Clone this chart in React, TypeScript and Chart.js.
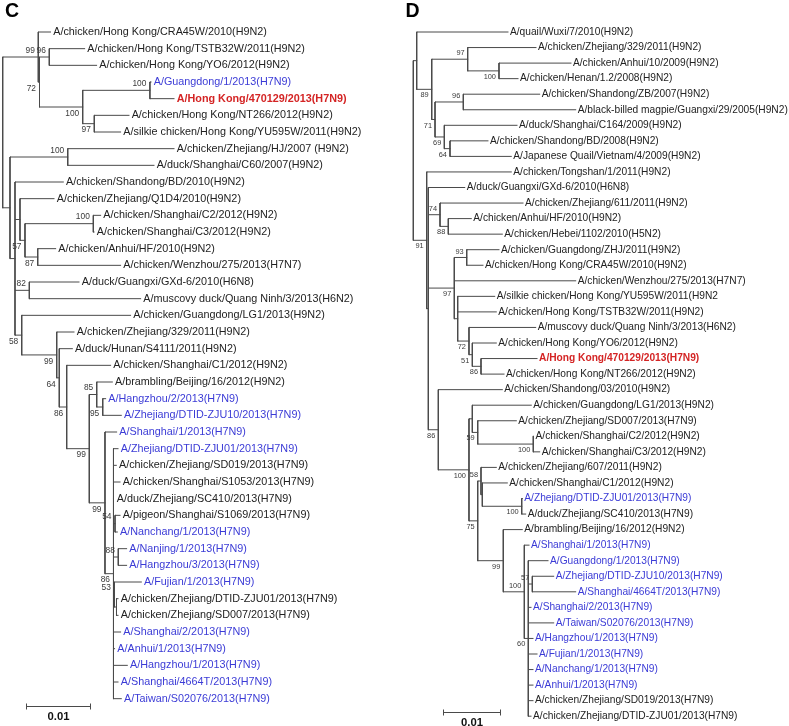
import React, { useEffect, useRef } from "react";
import { Chart, registerables } from "chart.js";

Chart.register(...registerables);

const FONT = '"Liberation Sans", Arial, Helvetica, sans-serif';
const HEIGHT = 726;
const LINE_COLOR = "#4a4a4a";
const SUPPORT_COLOR = "#3a3a3a";
const TEXT_COLORS: Record<string, string> = { k: "#222222", b: "#3b3bd6", r: "#d42424" };
const SCALE_BAR_VALUE = 0.01;
const SCALE_BAR_LABEL = "0.01";

// ---------------- Panel C ----------------
const C_LEAVES = [
  "A/chicken/Hong Kong/CRA45W/2010(H9N2)",
  "A/chicken/Hong Kong/TSTB32W/2011(H9N2)",
  "A/chicken/Hong Kong/YO6/2012(H9N2)",
  "A/Guangdong/1/2013(H7N9)",
  "A/Hong Kong/470129/2013(H7N9)",
  "A/chicken/Hong Kong/NT266/2012(H9N2)",
  "A/silkie chicken/Hong Kong/YU595W/2011(H9N2)",
  "A/chicken/Zhejiang/HJ/2007 (H9N2)",
  "A/duck/Shanghai/C60/2007(H9N2)",
  "A/chicken/Shandong/BD/2010(H9N2)",
  "A/chicken/Zhejiang/Q1D4/2010(H9N2)",
  "A/chicken/Shanghai/C2/2012(H9N2)",
  "A/chicken/Shanghai/C3/2012(H9N2)",
  "A/chicken/Anhui/HF/2010(H9N2)",
  "A/chicken/Wenzhou/275/2013(H7N7)",
  "A/duck/Guangxi/GXd-6/2010(H6N8)",
  "A/muscovy duck/Quang Ninh/3/2013(H6N2)",
  "A/chicken/Guangdong/LG1/2013(H9N2)",
  "A/chicken/Zhejiang/329/2011(H9N2)",
  "A/duck/Hunan/S4111/2011(H9N2)",
  "A/chicken/Shanghai/C1/2012(H9N2)",
  "A/brambling/Beijing/16/2012(H9N2)",
  "A/Hangzhou/2/2013(H7N9)",
  "A/Zhejiang/DTID-ZJU10/2013(H7N9)",
  "A/Shanghai/1/2013(H7N9)",
  "A/Zhejiang/DTID-ZJU01/2013(H7N9)",
  "A/chicken/Zhejiang/SD019/2013(H7N9)",
  "A/chicken/Shanghai/S1053/2013(H7N9)",
  "A/duck/Zhejiang/SC410/2013(H7N9)",
  "A/pigeon/Shanghai/S1069/2013(H7N9)",
  "A/Nanchang/1/2013(H7N9)",
  "A/Nanjing/1/2013(H7N9)",
  "A/Hangzhou/3/2013(H7N9)",
  "A/Fujian/1/2013(H7N9)",
  "A/chicken/Zhejiang/DTID-ZJU01/2013(H7N9)",
  "A/chicken/Zhejiang/SD007/2013(H7N9)",
  "A/Shanghai/2/2013(H7N9)",
  "A/Anhui/1/2013(H7N9)",
  "A/Hangzhou/1/2013(H7N9)",
  "A/Shanghai/4664T/2013(H7N9)",
  "A/Taiwan/S02076/2013(H7N9)",
];
const C_LEAF_COLOR = [
  "k", "k", "k", "b", "r",
  "k", "k", "k", "k", "k", "k", "k", "k", "k", "k", "k", "k", "k", "k", "k", "k", "k",
  "b", "b", "b", "b",
  "k", "k", "k", "k",
  "b", "b", "b", "b",
  "k", "k",
  "b", "b", "b", "b", "b",
];
const C_LEAF_PARENT = [
  "P", "Pb", "Pb", "S", "S", "T", "T", "Ua", "Ua", "V", "Z", "Yc", "Yc", "Ya", "Ya", "GX", "GX", "L",
  "AA", "AB", "AC", "AE", "AEb", "AEb", "AF", "AG", "AG", "AG", "AG", "N54", "N54", "N88", "N88",
  "N53", "NZ", "NZ", "AG", "AG", "AG", "AG", "AG",
];
const C_LEAF_DEPTH = [
  0.00747, 0.0128, 0.01467, 0.02317, 0.02677, 0.01973, 0.01842, 0.02677, 0.02364, 0.00947,
  0.00802, 0.0153, 0.01427, 0.00827, 0.01842, 0.01192, 0.02155, 0.01998, 0.01114, 0.01088,
  0.01686, 0.01713, 0.01608, 0.01853, 0.0178, 0.01802, 0.01775, 0.01833, 0.01739, 0.01833,
  0.01791, 0.01936, 0.01936, 0.02166, 0.01802, 0.01802, 0.01842, 0.01748, 0.01947, 0.01802,
  0.01853,
];
const C_NODE_ID = [
  "root", "P", "Q", "Pb", "R", "S", "T", "U", "Ua", "V", "Z", "Y", "Yc", "Ya", "GX", "L",
  "AA", "AB", "AC", "AD", "AE", "AEb", "AF", "AG", "N54", "N88", "N53", "NZ",
];
const C_NODE_PARENT = [
  "", "root", "P", "Q", "Q", "R", "R", "root", "U", "U", "V", "Z", "Y", "Y", "V", "V",
  "L", "AA", "AB", "AC", "AD", "AE", "AD", "AF", "AG", "AG", "AG", "N53",
];
const C_NODE_DEPTH = [
  0, 0.00556, 0.00575, 0.00728, 0.0125, 0.023, 0.01431, 0.00114, 0.01016, 0.00192, 0.0027,
  0.00348, 0.01416, 0.00547, 0.00416, 0.00297, 0.00844, 0.00884, 0.01, 0.01353, 0.01469,
  0.01563, 0.01598, 0.01731, 0.01755, 0.01806, 0.01744, 0.01778,
];
const C_NODE_SUPPORT = [
  "", "99", "72", "96", "100", "100", "97", "", "100", "", "", "57", "100", "87", "82", "58",
  "99", "64", "86", "99", "85", "95", "99", "86", "54", "88", "53", "",
];
const C_NODE_LABEL_POS = [
  "", "a", "b", "a", "b", "a", "b", "", "a", "", "", "b", "a", "b", "a", "b",
  "b", "b", "b", "b", "a", "b", "b", "b", "a", "a", "a", "",
];

// ---------------- Panel D ----------------
const D_LEAVES = [
  "A/quail/Wuxi/7/2010(H9N2)",
  "A/chicken/Zhejiang/329/2011(H9N2)",
  "A/chicken/Anhui/10/2009(H9N2)",
  "A/chicken/Henan/1.2/2008(H9N2)",
  "A/chicken/Shandong/ZB/2007(H9N2)",
  "A/black-billed magpie/Guangxi/29/2005(H9N2)",
  "A/duck/Shanghai/C164/2009(H9N2)",
  "A/chicken/Shandong/BD/2008(H9N2)",
  "A/Japanese Quail/Vietnam/4/2009(H9N2)",
  "A/chicken/Tongshan/1/2011(H9N2)",
  "A/duck/Guangxi/GXd-6/2010(H6N8)",
  "A/chicken/Zhejiang/611/2011(H9N2)",
  "A/chicken/Anhui/HF/2010(H9N2)",
  "A/chicken/Hebei/1102/2010(H5N2)",
  "A/chicken/Guangdong/ZHJ/2011(H9N2)",
  "A/chicken/Hong Kong/CRA45W/2010(H9N2)",
  "A/chicken/Wenzhou/275/2013(H7N7)",
  "A/silkie chicken/Hong Kong/YU595W/2011(H9N2",
  "A/chicken/Hong Kong/TSTB32W/2011(H9N2)",
  "A/muscovy duck/Quang Ninh/3/2013(H6N2)",
  "A/chicken/Hong Kong/YO6/2012(H9N2)",
  "A/Hong Kong/470129/2013(H7N9)",
  "A/chicken/Hong Kong/NT266/2012(H9N2)",
  "A/chicken/Shandong/03/2010(H9N2)",
  "A/chicken/Guangdong/LG1/2013(H9N2)",
  "A/chicken/Zhejiang/SD007/2013(H7N9)",
  "A/chicken/Shanghai/C2/2012(H9N2)",
  "A/chicken/Shanghai/C3/2012(H9N2)",
  "A/chicken/Zhejiang/607/2011(H9N2)",
  "A/chicken/Shanghai/C1/2012(H9N2)",
  "A/Zhejiang/DTID-ZJU01/2013(H7N9)",
  "A/duck/Zhejiang/SC410/2013(H7N9)",
  "A/brambling/Beijing/16/2012(H9N2)",
  "A/Shanghai/1/2013(H7N9)",
  "A/Guangdong/1/2013(H7N9)",
  "A/Zhejiang/DTID-ZJU10/2013(H7N9)",
  "A/Shanghai/4664T/2013(H7N9)",
  "A/Shanghai/2/2013(H7N9)",
  "A/Taiwan/S02076/2013(H7N9)",
  "A/Hangzhou/1/2013(H7N9)",
  "A/Fujian/1/2013(H7N9)",
  "A/Nanchang/1/2013(H7N9)",
  "A/Anhui/1/2013(H7N9)",
  "A/chicken/Zhejiang/SD019/2013(H7N9)",
  "A/chicken/Zhejiang/DTID-ZJU01/2013(H7N9)",
];
const D_LEAF_COLOR = [
  "k", "k", "k", "k", "k", "k", "k", "k", "k", "k", "k", "k", "k", "k", "k", "k", "k", "k", "k", "k", "k",
  "r",
  "k", "k", "k", "k", "k", "k", "k", "k",
  "b", "k", "k",
  "b", "b", "b", "b", "b", "b", "b", "b", "b", "b",
  "k", "k",
];
const D_LEAF_PARENT = [
  "DA", "DC", "DCa", "DCa", "DDa", "DDa", "DDb", "DDc", "DDc", "DE", "DE2", "DH", "DHa", "DHa",
  "DIa", "DIa", "DI", "DJ", "DJ", "DK", "DL", "DM", "DM", "DF", "DO", "DO2", "DOc", "DOc", "DP",
  "DP2", "DPz", "DPz", "DR", "DS", "DT", "DU", "DU", "DT", "DT", "DT", "DT", "DT", "DT", "DT", "DT",
];
const D_LEAF_DEPTH = [
  0.0167, 0.02164, 0.02781, 0.01847, 0.02229, 0.02864, 0.01829, 0.01317, 0.01728, 0.01728,
  0.00907, 0.01935, 0.01023, 0.0157, 0.01511, 0.01229, 0.02864, 0.01436, 0.01464, 0.02159,
  0.01464, 0.02182, 0.016, 0.0157, 0.02081, 0.01817, 0.0212, 0.02229, 0.01464, 0.01658,
  0.01922, 0.01982, 0.01922, 0.02041, 0.02376, 0.02476, 0.02864, 0.02076, 0.02476, 0.02111,
  0.02182, 0.02111, 0.02111, 0.02111, 0.02076,
];
const D_NODE_ID = [
  "rootD", "DA", "DB", "DC", "DCa", "DD", "DDa", "DDb", "DDc", "DE", "DE2", "DH", "DHa", "DI",
  "DIa", "DJ", "DK", "DL", "DM", "DF", "DN", "DO", "DO2", "DOc", "DQ", "DP", "DP2", "DPz", "DR",
  "DS", "DT", "DU",
];
const D_NODE_PARENT = [
  "", "rootD", "DA", "DB", "DC", "DB", "DD", "DD", "DDb", "rootD", "DE", "DE2", "DH", "DE2",
  "DI", "DI", "DJ", "DK", "DL", "DE2", "DF", "DN", "DO", "DO2", "DN", "DQ", "DP", "DP2", "DQ",
  "DR", "DS", "DT",
];
const D_NODE_DEPTH = [
  0, 0.0006, 0.00325, 0.00959, 0.01511, 0.00383, 0.00882, 0.00547, 0.00647, 0.00236, 0.00265,
  0.00471, 0.00617, 0.00723, 0.00942, 0.00783, 0.00982, 0.01041, 0.01194, 0.00441, 0.00982,
  0.01041, 0.01136, 0.02116, 0.01136, 0.01194, 0.01217, 0.01912, 0.01587, 0.01958, 0.02028,
  0.02099,
];
const D_NODE_SUPPORT = [
  "", "", "89", "97", "100", "71", "96", "69", "64", "91", "", "74", "88", "97",
  "93", "", "72", "51", "86", "86", "100", "", "59", "100", "75", "58", "", "100", "99",
  "100", "60", "57",
];
const D_NODE_LABEL_POS = [
  "", "", "b", "a", "b", "b", "a", "b", "b", "b", "", "a", "b", "b",
  "a", "", "b", "b", "b", "b", "b", "", "b", "b", "b", "a", "", "b", "b",
  "a", "b", "a",
];

type Panel = {
  letter: string;
  leaves: string[];
  leafColor: string[];
  leafParent: string[];
  leafDepth: number[];
  nodeId: string[];
  nodeParent: string[];
  nodeDepth: number[];
  nodeSupport: string[];
  nodeLabelPos: string[];
  left: number;
  width: number;
  rootPx: number;
  pxPerUnit: number;
  firstRowY: number;
  rowStep: number;
  leafFont: number;
  supportFont: number;
  supportGap: number;
  supportOffset: number;
  textGap: number;
  scaleBarDepth: number;
  scaleBarRow: number;
  scaleFont: number;
  letterX: number;
};

const PANEL_C: Panel = {
  letter: "C",
  leaves: C_LEAVES,
  leafColor: C_LEAF_COLOR,
  leafParent: C_LEAF_PARENT,
  leafDepth: C_LEAF_DEPTH,
  nodeId: C_NODE_ID,
  nodeParent: C_NODE_PARENT,
  nodeDepth: C_NODE_DEPTH,
  nodeSupport: C_NODE_SUPPORT,
  nodeLabelPos: C_NODE_LABEL_POS,
  left: 0,
  width: 393,
  rootPx: 2.7,
  pxPerUnit: 6400,
  firstRowY: 32,
  rowStep: 16.667,
  leafFont: 10.8,
  supportFont: 8.4,
  supportGap: 3.5,
  supportOffset: 6.5,
  textGap: 2.7,
  scaleBarDepth: 0.00364,
  scaleBarRow: 40.42,
  scaleFont: 11.3,
  letterX: 5,
};

const PANEL_D: Panel = {
  letter: "D",
  leaves: D_LEAVES,
  leafColor: D_LEAF_COLOR,
  leafParent: D_LEAF_PARENT,
  leafDepth: D_LEAF_DEPTH,
  nodeId: D_NODE_ID,
  nodeParent: D_NODE_PARENT,
  nodeDepth: D_NODE_DEPTH,
  nodeSupport: D_NODE_SUPPORT,
  nodeLabelPos: D_NODE_LABEL_POS,
  left: 393,
  width: 396,
  rootPx: 413.3,
  pxPerUnit: 5670,
  firstRowY: 32,
  rowStep: 15.55,
  leafFont: 10.2,
  supportFont: 7.4,
  supportGap: 3,
  supportOffset: 6,
  textGap: 2,
  scaleBarDepth: 0.00529,
  scaleBarRow: 43.71,
  scaleFont: 11.3,
  letterX: 12.5,
};

function buildTree(p: Panel) {
  const kids: Record<string, string[]> = {};
  const leafRows: Record<string, number[]> = {};
  const depth: Record<string, number> = {};
  p.nodeId.forEach((id, k) => {
    depth[id] = p.nodeDepth[k];
    const par = p.nodeParent[k];
    if (par) (kids[par] = kids[par] || []).push(id);
  });
  p.leafParent.forEach((par, i) => (leafRows[par] = leafRows[par] || []).push(i));
  const y: Record<string, number> = {};
  const lo: Record<string, number> = {};
  const hi: Record<string, number> = {};
  const calc = (id: string): number => {
    const ys = [...(leafRows[id] || []), ...(kids[id] || []).map(calc)];
    lo[id] = Math.min(...ys);
    hi[id] = Math.max(...ys);
    y[id] = (lo[id] + hi[id]) / 2;
    return y[id];
  };
  p.nodeId.forEach((id, k) => {
    if (!p.nodeParent[k]) calc(id);
  });
  const pts: { x: number; y: number }[] = [];
  const seg = (x1: number, y1: number, x2: number, y2: number) => {
    pts.push({ x: x1, y: y1 }, { x: x2, y: y2 }, { x: NaN, y: NaN });
  };
  p.leafParent.forEach((par, i) => seg(depth[par], i, p.leafDepth[i], i));
  p.nodeId.forEach((id, k) => {
    const par = p.nodeParent[k];
    if (par) seg(depth[par], y[id], depth[id], y[id]);
    seg(depth[id], lo[id], depth[id], hi[id]);
  });
  return { pts, y, depth };
}

function makeTextPlugin(p: Panel, t: ReturnType<typeof buildTree>) {
  return {
    id: "treeText" + p.letter,
    afterDatasetsDraw(chart: any) {
      const ctx: CanvasRenderingContext2D = chart.ctx;
      const xs = chart.scales.x;
      const ys = chart.scales.y;
      ctx.save();
      ctx.textBaseline = "middle";
      ctx.textAlign = "left";
      p.leaves.forEach((name, i) => {
        const c = p.leafColor[i];
        ctx.font = (c === "r" ? "bold " : "") + p.leafFont + "px " + FONT;
        ctx.fillStyle = TEXT_COLORS[c];
        ctx.fillText(name, xs.getPixelForValue(p.leafDepth[i]) + p.textGap, ys.getPixelForValue(i));
      });
      ctx.textAlign = "right";
      ctx.font = p.supportFont + "px " + FONT;
      ctx.fillStyle = SUPPORT_COLOR;
      p.nodeId.forEach((id, k) => {
        const s = p.nodeSupport[k];
        if (!s) return;
        const x = xs.getPixelForValue(t.depth[id]) - p.supportGap;
        const off = p.nodeLabelPos[k] === "a" ? -p.supportOffset : p.supportOffset;
        ctx.fillText(s, x, ys.getPixelForValue(t.y[id]) + off);
      });
      // scale bar
      const x0 = Math.round(xs.getPixelForValue(p.scaleBarDepth)) + 0.5;
      const x1 = Math.round(xs.getPixelForValue(p.scaleBarDepth + SCALE_BAR_VALUE)) + 0.5;
      const yb = Math.round(ys.getPixelForValue(p.scaleBarRow)) + 0.5;
      ctx.strokeStyle = LINE_COLOR;
      ctx.lineWidth = 1;
      ctx.beginPath();
      ctx.moveTo(x0, yb);
      ctx.lineTo(x1, yb);
      ctx.moveTo(x0, yb - 3);
      ctx.lineTo(x0, yb + 3);
      ctx.moveTo(x1, yb - 3);
      ctx.lineTo(x1, yb + 3);
      ctx.stroke();
      ctx.fillStyle = "#111";
      ctx.textAlign = "center";
      ctx.font = "bold " + p.scaleFont + "px " + FONT;
      ctx.fillText(SCALE_BAR_LABEL, (x0 + x1) / 2, yb + 10.5);
      // panel letter
      ctx.textAlign = "left";
      ctx.textBaseline = "alphabetic";
      ctx.font = "bold 19.5px " + FONT;
      ctx.fillStyle = "#000";
      ctx.fillText(p.letter, p.letterX, 17);
      ctx.restore();
    },
  };
}

function TreePanel({ p }: { p: Panel }) {
  const ref = useRef<HTMLCanvasElement>(null);
  useEffect(() => {
    if (!ref.current) return;
    const t = buildTree(p);
    const rootOff = p.rootPx - p.left;
    const chart = new Chart(ref.current, {
      type: "scatter",
      data: {
        datasets: [
          {
            data: t.pts,
            showLine: true,
            spanGaps: false,
            borderColor: LINE_COLOR,
            backgroundColor: LINE_COLOR,
            borderWidth: 1,
            borderCapStyle: "square",
            pointRadius: 0,
            pointHoverRadius: 0,
          } as any,
        ],
      },
      options: {
        animation: false,
        responsive: false,
        events: [],
        layout: { padding: 0 },
        plugins: { legend: { display: false }, tooltip: { enabled: false } },
        scales: {
          x: {
            type: "linear",
            display: false,
            bounds: "data",
            min: -rootOff / p.pxPerUnit,
            max: (p.width - rootOff) / p.pxPerUnit,
          },
          y: {
            type: "linear",
            display: false,
            bounds: "data",
            reverse: true,
            min: -p.firstRowY / p.rowStep,
            max: (HEIGHT - p.firstRowY) / p.rowStep,
          },
        },
      } as any,
      plugins: [makeTextPlugin(p, t)],
    });
    return () => chart.destroy();
  }, [p]);
  return (
    <canvas
      ref={ref}
      width={p.width}
      height={HEIGHT}
      style={{ position: "absolute", left: p.left, top: 0, width: p.width, height: HEIGHT }}
    />
  );
}

export default function App() {
  return (
    <div
      style={{
        position: "absolute",
        left: 0,
        top: 0,
        width: 789,
        height: HEIGHT,
        background: "#fff",
        overflow: "hidden",
      }}
    >
      <TreePanel p={PANEL_C} />
      <TreePanel p={PANEL_D} />
    </div>
  );
}
